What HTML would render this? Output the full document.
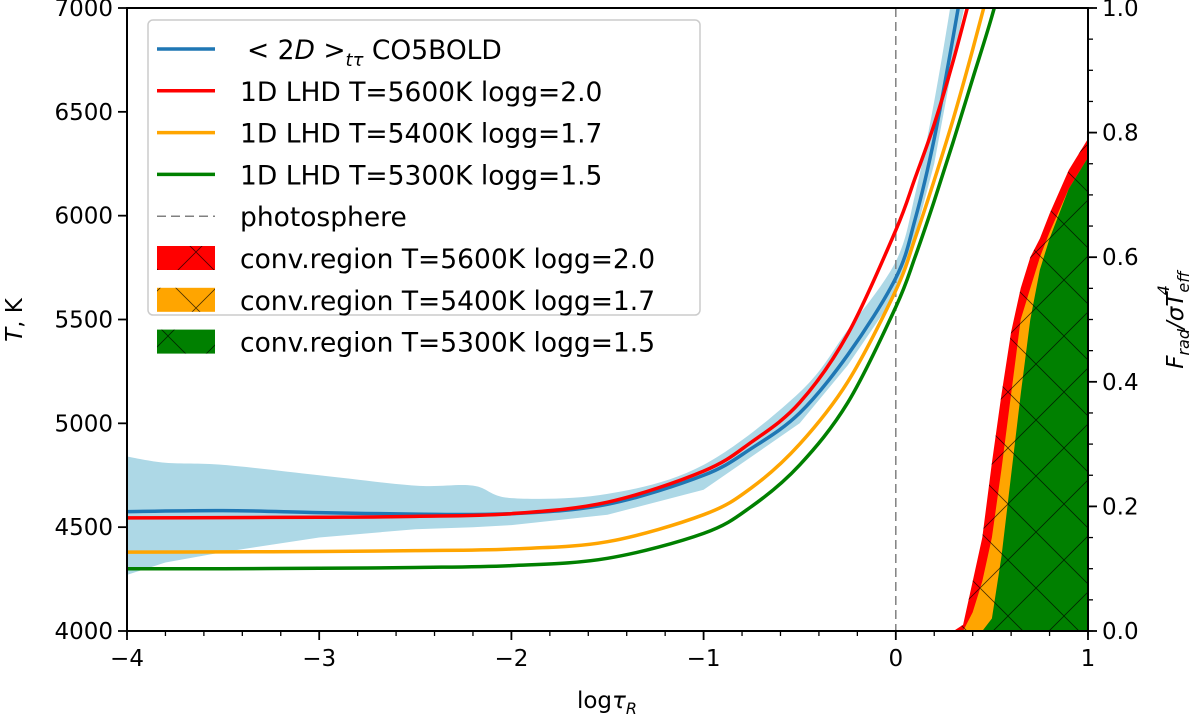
<!DOCTYPE html>
<html><head><meta charset="utf-8">
<style>
html,body{margin:0;padding:0;background:#fff;}
svg{display:block;font-family:"DejaVu Sans","Liberation Sans",sans-serif;}
</style></head>
<body>
<svg id="chart" width="1200" height="718" viewBox="0 0 1200 718" xmlns="http://www.w3.org/2000/svg">
<defs>
<pattern id="hatch" patternUnits="userSpaceOnUse" width="56" height="56">
<path d="M0,0 L56,56 M56,0 L0,56" stroke="#000" stroke-width="0.8" fill="none" opacity="0.7"/>
</pattern>
<clipPath id="plotclip"><rect x="127" y="8" width="961" height="623"/></clipPath>
</defs>
<g id="plot" clip-path="url(#plotclip)"></g>
<g id="axes"></g>
<g id="legend"></g>
</svg>
<script>
// ---- data ----
const xTicks = [-4,-3,-2,-1,0,1];
const yTicks = [4000,4500,5000,5500,6000,6500,7000];
const y2Ticks = [0.0,0.2,0.4,0.6,0.8,1.0];

const lineX = [-4,-3.5,-3,-2.5,-2,-1.5,-1,-0.75,-0.5,-0.25,0,0.1,0.2,0.3,0.4,0.5,0.6];
const blueT  = [4575,4580,4570,4563,4565,4610,4750,4880,5050,5330,5700,5980,6370,6870,7400,7900,8400];
const redT   = [4545,4546,4548,4552,4565,4620,4770,4910,5100,5430,5930,6180,6440,6750,7100,7450,7800];
const orangeT= [4380,4381,4383,4387,4395,4430,4560,4690,4900,5200,5640,5890,6170,6470,6800,7150,7500];
const greenT = [4300,4300,4302,4306,4315,4350,4470,4600,4800,5100,5560,5800,6070,6360,6660,6960,7300];

const bandX  = [-4,-3.8,-3.5,-3,-2.5,-2.2,-2,-1.5,-1,-0.5,-0.25,0,0.1,0.2,0.3,0.4];
const bandHi = [4840,4810,4800,4750,4700,4700,4640,4660,4800,5150,5450,5780,6100,6550,7100,7700];
const bandLo = [4270,4330,4380,4450,4490,4500,4510,4560,4680,5000,5280,5620,5900,6250,6750,7200];

const convX     = [0.3,0.35,0.4,0.45,0.5,0.55,0.6,0.65,0.7,0.75,0.8,0.9,1.0];
const convRed   = [0,0.01,0.08,0.15,0.27,0.38,0.48,0.55,0.6,0.63,0.67,0.74,0.79];
const convOrange= [0,0,0.03,0.08,0.15,0.26,0.38,0.5,0.55,0.6,0.64,0.71,0.76];
const convGreen = [0,0,0,0.0,0.02,0.12,0.25,0.38,0.5,0.58,0.63,0.71,0.76];

// ---- axes functions ----
const X0=127,X1=1088,Y0=631,Y1=8;
const sx=v=>X0+(v+4)/5*(X1-X0);
const sy=v=>Y0-(v-4000)/3000*(Y0-Y1);
const sy2=v=>Y0-v*(Y0-Y1);
const NS="http://www.w3.org/2000/svg";
function mk(tag,attrs,parent){const e=document.createElementNS(NS,tag);for(const k in attrs)e.setAttribute(k,attrs[k]);parent.appendChild(e);return e;}
const plot=document.getElementById('plot'),axes=document.getElementById('axes'),leg=document.getElementById('legend');

function smoothPath(xs,ys,fy){
  const p=xs.map((x,i)=>[sx(x),fy(ys[i])]);
  let d='M'+p[0][0]+','+p[0][1];
  for(let i=0;i<p.length-1;i++){
    const p0=p[i-1]||p[i],p1=p[i],p2=p[i+1],p3=p[i+2]||p2;
    const c1=[p1[0]+(p2[0]-p0[0])/6,p1[1]+(p2[1]-p0[1])/6];
    const c2=[p2[0]-(p3[0]-p1[0])/6,p2[1]-(p3[1]-p1[1])/6];
    d+=` C${c1[0].toFixed(1)},${c1[1].toFixed(1)} ${c2[0].toFixed(1)},${c2[1].toFixed(1)} ${p2[0].toFixed(1)},${p2[1].toFixed(1)}`;
  }
  return d;
}

// band
{
  const up=smoothPath(bandX,bandHi,sy);
  const loPts=bandX.map((x,i)=>[sx(x),sy(bandLo[i])]).reverse();
  let d=up+' '+loPts.map(p=>'L'+p[0].toFixed(1)+','+p[1].toFixed(1)).join(' ')+' Z';
  const b=mk('path',{d:d,fill:'#add8e6',stroke:'none'},plot);
  
  
}
// convection fills
function fillArea(vals,color,name){
  let d='M'+sx(convX[0])+','+sy2(0)+' '+convX.map((x,i)=>'L'+sx(x).toFixed(1)+','+sy2(vals[i]).toFixed(1)).join(' ')+' L'+sx(convX[convX.length-1])+','+sy2(0)+' Z';
  const a=mk('path',{d:d,fill:color},plot);
  
  
  const h=mk('path',{d:d,fill:'url(#hatch)'},plot);
  
  
}
fillArea(convRed,'#ff0000','conv-region-5600');
fillArea(convOrange,'#ffa500','conv-region-5400');
fillArea(convGreen,'#008000','conv-region-5300');

// photosphere
{const l=mk('line',{x1:sx(0),x2:sx(0),y1:Y1,y2:Y0,stroke:'#808080','stroke-width':1.5,'stroke-dasharray':'9,5'},plot);

}

function curve(ys,color,name){
  const c=mk('path',{d:smoothPath(lineX,ys,sy),fill:'none',stroke:color,'stroke-width':3.5},plot);
  
  
}
curve(greenT,'#008000','line-5300');
curve(orangeT,'#ffa500','line-5400');
curve(blueT,'#1f77b4','line-co5bold');
curve(redT,'#ff0000','line-5600');

// frame
{const f=mk('rect',{x:X0,y:Y1,width:X1-X0,height:Y0-Y1,fill:'none',stroke:'#000','stroke-width':2},axes);

}
for(let v=-4;v<=1.001;v+=0.2){const X=sx(v);mk('line',{x1:X,x2:X,y1:Y0,y2:Y0+5,stroke:'#000','stroke-width':1.3},axes);}
xTicks.forEach(v=>{
  const X=sx(v);mk('line',{x1:X,x2:X,y1:Y0,y2:Y0+9,stroke:'#000','stroke-width':1.8},axes);
  const t=mk('text',{x:X,y:Y0+35,'text-anchor':'middle','font-size':23},axes);
  t.textContent=v<0?'\u2212'+(-v):String(v);
  
  
});
yTicks.forEach(v=>{
  const Y=sy(v);mk('line',{x1:X0-9,x2:X0,y1:Y,y2:Y,stroke:'#000','stroke-width':1.8},axes);
  const t=mk('text',{x:X0-14,y:Y+8,'text-anchor':'end','font-size':23},axes);
  t.textContent=String(v);
  
  
});
for(let v=0;v<=1.001;v+=0.05){const Y=sy2(v);mk('line',{x1:X1,x2:X1+5,y1:Y,y2:Y,stroke:'#000','stroke-width':1.3},axes);}
y2Ticks.forEach(v=>{
  const Y=sy2(v);mk('line',{x1:X1,x2:X1+9,y1:Y,y2:Y,stroke:'#000','stroke-width':1.8},axes);
  const t=mk('text',{x:X1+14,y:Y+8,'text-anchor':'start','font-size':23},axes);
  t.textContent=v.toFixed(1);
  
  
});
{const t=mk('text',{x:607,y:708,'text-anchor':'middle','font-size':23},axes);
t.innerHTML='log<tspan font-style="italic">τ</tspan><tspan font-style="italic" font-size="16" dy="6">R</tspan>';

}
{const t=mk('text',{x:0,y:0,'text-anchor':'middle','font-size':23,transform:'translate(22,320) rotate(-90)'},axes);
t.innerHTML='<tspan font-style="italic">T</tspan>, K';

}
{const t=mk('text',{x:0,y:0,'text-anchor':'middle','font-size':23,transform:'translate(1183,320) rotate(-90)','font-style':'italic'},axes);
t.innerHTML='F<tspan font-size="16" dy="6">rad</tspan><tspan dy="-6">/σT</tspan><tspan font-size="16" dy="6">eff</tspan><tspan font-size="16" dx="-24" dy="-20">4</tspan>';

}

// legend
{
  const box=mk('rect',{x:148,y:20,width:552,height:295,rx:5,fill:'#fff','fill-opacity':0.85,stroke:'#ccc','stroke-width':1.5},leg);
  
  
  const items=[
    {t:'line',c:'#1f77b4',label:'&lt; 2<tspan font-style="italic">D</tspan> &gt;<tspan font-style="italic" font-size="18" dy="7">tτ</tspan><tspan dy="-7"> CO5BOLD</tspan>',n:'legend-co5bold'},
    {t:'line',c:'#ff0000',label:'1D LHD T=5600K logg=2.0',n:'legend-5600'},
    {t:'line',c:'#ffa500',label:'1D LHD T=5400K logg=1.7',n:'legend-5400'},
    {t:'line',c:'#008000',label:'1D LHD T=5300K logg=1.5',n:'legend-5300'},
    {t:'dash',c:'#808080',label:'photosphere',n:'legend-photosphere'},
    {t:'rect',c:'#ff0000',label:'conv.region T=5600K logg=2.0',n:'legend-conv-5600'},
    {t:'rect',c:'#ffa500',label:'conv.region T=5400K logg=1.7',n:'legend-conv-5400'},
    {t:'rect',c:'#008000',label:'conv.region T=5300K logg=1.5',n:'legend-conv-5300'}
  ];
  items.forEach((it,i)=>{
    const y=49+i*41.8;
    const g=mk('g',{},leg);
    
    
    if(it.t==='line') mk('line',{x1:157,x2:215,y1:y,y2:y,stroke:it.c,'stroke-width':3.5},g);
    else if(it.t==='dash') mk('line',{x1:157,x2:215,y1:y,y2:y,stroke:it.c,'stroke-width':1.5,'stroke-dasharray':'9,5'},g);
    else {mk('rect',{x:157,y:y-12,width:58,height:24,fill:it.c},g);mk('rect',{x:157,y:y-12,width:58,height:24,fill:'url(#hatch)'},g);}
    const t=mk('text',{x:i===0?247:240,y:y+10,'font-size':26.5},g);
    t.innerHTML=it.label;
  });
}
</script>
</body></html>
